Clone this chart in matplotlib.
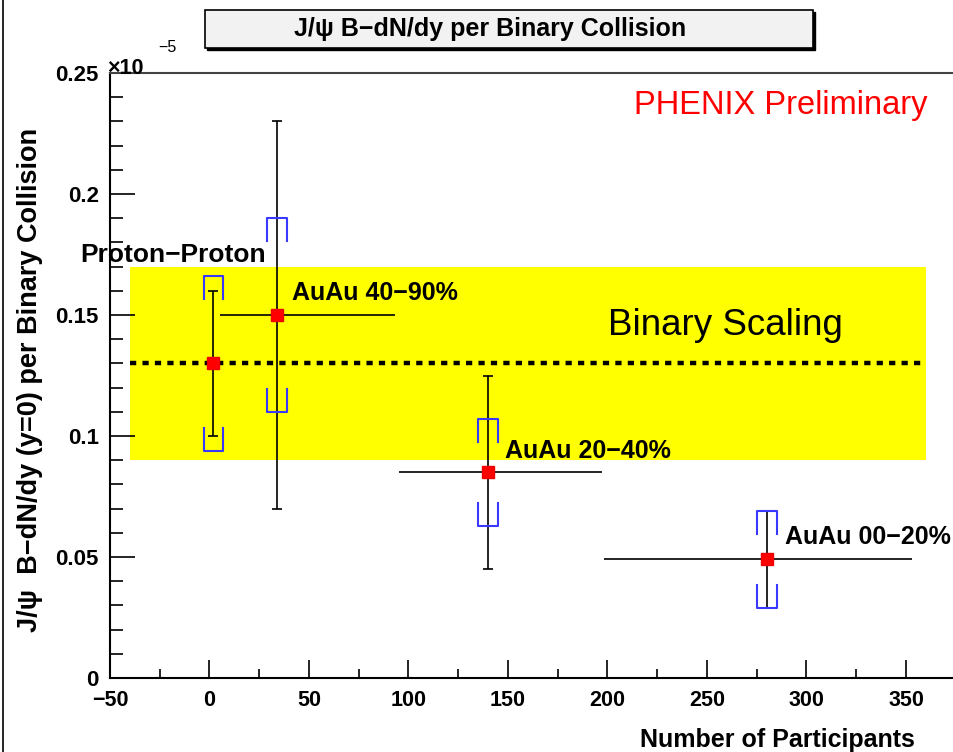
import matplotlib
matplotlib.use("Agg")
import matplotlib.pyplot as plt
from matplotlib.patches import Rectangle
from matplotlib.ticker import MultipleLocator, FixedLocator, FuncFormatter

plt.rcParams["font.family"] = ["Liberation Sans", "DejaVu Sans"]

# J/psi yield per binary collision (in units of 1e-5) vs number of participants
labels = ["Proton\u2212Proton", "AuAu 40\u221290%", "AuAu 20\u221240%", "AuAu 00\u221220%"]
npart = [2, 34, 140, 280]
npart_err_lo = [0, 28.6, 45, 82]
npart_err_hi = [0, 59, 57, 73]
yield_per_coll = [0.13, 0.15, 0.085, 0.049]
stat_err = [0.03, 0.08, 0.04, 0.02]
syst_err = [0.036, 0.04, 0.022, 0.02]

# binary-scaling expectation band
binary_value = 0.13
binary_lo = 0.09
binary_hi = 0.17
binary_npart_range = [-40, 360]

# tick values shown on the x axis
x_ticks = [-50, 0, 50, 100, 150, 200, 250, 300, 350]

# label anchors (left edge, vertical centre) in data coordinates, and sizes
label_pos = [(-64.8, 0.1748), (41.6, 0.159), (148.6, 0.0938), (289.3, 0.0583)]
label_size = [19, 18, 18, 18]

W, H = 954, 752
fig = plt.figure(figsize=(W / 100, H / 100), dpi=100)
fig.patch.set_facecolor("white")

# frame: left at x=-50, right edge lies past the canvas like the original pad
ax = fig.add_axes([110 / W, 74 / H, (1005.5 - 110) / W, (678 - 73) / H])
ax.set_xlim(-50, 400)
ax.set_ylim(0, 0.25)

# binary scaling band + dashed expectation line
ax.fill_between(binary_npart_range, binary_lo, binary_hi, color="#ffff00", lw=0, zorder=0.5)
ax.plot(binary_npart_range, [binary_value, binary_value], color="black", lw=3.2,
        linestyle=(0, (1.4, 1.4)), dash_capstyle="butt", zorder=1)

# horizontal (centrality bin) errors
ax.errorbar(npart, yield_per_coll, xerr=[npart_err_lo, npart_err_hi], fmt="none",
            ecolor="black", elinewidth=1.2, capsize=0, zorder=2)
# statistical errors
ax.errorbar(npart, yield_per_coll, yerr=stat_err, fmt="none", ecolor="black",
            elinewidth=1.2, capsize=3.5, capthick=1.2, zorder=2)

# systematic brackets
half_w = 5.0
arm = 0.0095
for x, y, s in zip(npart, yield_per_coll, syst_err):
    top = y + s
    bot = y - s
    ax.plot([x - half_w, x - half_w, x + half_w, x + half_w],
            [top - arm, top, top, top - arm], color="#3838ff", lw=1.5, zorder=2.5)
    ax.plot([x - half_w, x - half_w, x + half_w, x + half_w],
            [bot + arm, bot, bot, bot + arm], color="#3838ff", lw=1.5, zorder=2.5)

# central values
ax.plot(npart, yield_per_coll, "s", color="#ff0000", ms=8, mec="#ee0000", zorder=3)

for text, (lx, ly), fs in zip(labels, label_pos, label_size):
    ax.text(lx, ly, text, ha="left", va="center", fontsize=fs, fontweight="bold",
            zorder=4)

ax.text(200.4, 0.1455, "Binary Scaling", ha="left", va="center", fontsize=26.5, zorder=4)
ax.text(361, 0.2364, "PHENIX Preliminary", ha="right", va="center", fontsize=23.5,
        color="#ff0000", zorder=4)

# axes styling
ax.spines["right"].set_visible(False)
ax.spines["left"].set_linewidth(1.5)
ax.spines["bottom"].set_linewidth(1.5)
ax.spines["top"].set_linewidth(1.5)
ax.spines["top"].set_color("#444444")

ax.xaxis.set_major_locator(FixedLocator(x_ticks))
ax.xaxis.set_minor_locator(MultipleLocator(25))
ax.yaxis.set_major_locator(MultipleLocator(0.05))
ax.yaxis.set_minor_locator(MultipleLocator(0.01))
ax.yaxis.set_major_formatter(FuncFormatter(lambda v, p: "0" if abs(v) < 1e-9 else f"{v:g}"))
ax.xaxis.set_major_formatter(FuncFormatter(lambda v, p: f"{v:g}".replace("-", "\u2212")))

ax.tick_params(axis="x", which="major", direction="in", length=13, width=1.2,
               labelsize=15.5, pad=9, top=False)
ax.tick_params(axis="x", which="minor", direction="in", length=6.5, width=1.2, top=False)
ax.tick_params(axis="y", which="major", direction="in", length=18, width=1.2,
               labelsize=16, pad=8, right=False)
ax.tick_params(axis="y", which="minor", direction="in", length=9, width=1.2, right=False)
for lab in ax.get_xticklabels() + ax.get_yticklabels():
    lab.set_fontweight("bold")

# exponent for the y axis
fig.text(107 / W, 1 - 68 / H, "\u00d710", ha="left", va="center", fontsize=15.5,
         fontweight="bold")
fig.text(158 / W, 1 - 48 / H, "\u22125", ha="left", va="center", fontsize=11.5)

# axis titles
fig.text(30 / W, 1 - 380 / H, "J/\u03c8  B\u2212dN/dy (y=0) per Binary Collision",
         rotation=90, ha="center", va="center", fontsize=19.5, fontweight="bold")
fig.text(915 / W, 1 - 740 / H, "Number of Participants", ha="right", va="center",
         fontsize=18, fontweight="bold")

# title box with drop shadow
bx, by, bw, bh = 205 / W, 1 - 48 / H, (813 - 205) / W, 38 / H
fig.patches.append(Rectangle((bx + 2 / W, by - 2 / H), bw, bh, transform=fig.transFigure,
                             facecolor="black", edgecolor="black", lw=1))
fig.patches.append(Rectangle((bx, by), bw, bh, transform=fig.transFigure,
                             facecolor="#f2f2f2", edgecolor="black", lw=1.2))
fig.text(490 / W, by + bh / 2, "J/\u03c8 B\u2212dN/dy per Binary Collision",
         ha="center", va="center", fontsize=18, fontweight="bold")

# pad border on the left
fig.add_artist(plt.Line2D([3 / W, 3 / W], [0, 1], transform=fig.transFigure,
                          color="black", lw=1.2))

fig.savefig("out.png", dpi=100)
